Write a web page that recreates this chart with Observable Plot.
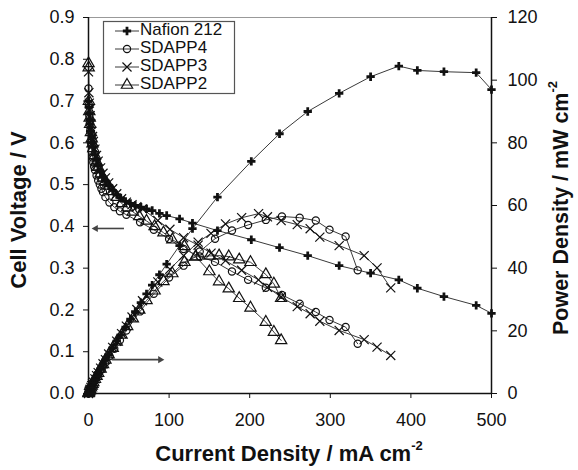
<!DOCTYPE html>
<html><head><meta charset="utf-8">
<script src="https://cdn.jsdelivr.net/npm/d3@7"></script>
<script src="https://cdn.jsdelivr.net/npm/@observablehq/plot@0.6"></script>
<style>
body{margin:0;background:#fff;}
#chart{width:578px;height:470px;}
svg{font-family:"Liberation Sans",Arial,sans-serif;}
</style></head><body><div id="chart"></div>
<script>
// ---- data ----
const seriesNames = ["Nafion 212", "SDAPP4", "SDAPP3", "SDAPP2"];

const nafionI = [0,0.5,1,1.5,2,3,4,5,6,8,10,12,15,18,21,25,30,35,40,46,52,58,65,72,79,88,97,113,129,160,202,237,272,311,350,385,408,441,481,500];
const nafionV = [0.70,0.685,0.67,0.655,0.645,0.628,0.613,0.60,0.59,0.572,0.558,0.545,0.53,0.518,0.508,0.497,0.486,0.476,0.468,0.46,0.455,0.45,0.446,0.442,0.438,0.431,0.426,0.418,0.408,0.39,0.368,0.349,0.33,0.306,0.288,0.272,0.252,0.232,0.211,0.192];
const nafionP = [0,0.34,0.67,0.98,1.29,1.88,2.45,3.0,3.54,4.58,5.58,6.54,7.95,9.3,10.7,12.4,14.6,16.7,18.7,21.2,23.7,26.1,29.0,31.8,34.6,37.9,41.3,47.2,52.6,62.7,74.1,82.9,90.0,95.8,101.1,104.5,103.1,102.7,102.4,97];

const sdapp4I = [0,0.5,1,1.5,2,3,4,5,6,7,8,10,12,14,16,18,21,26,32,39,47,64,81,100,118,138,157,178,198,220,240,262,282,299,319,334];
const sdapp4V = [0.73,0.69,0.665,0.645,0.628,0.60,0.58,0.565,0.553,0.543,0.535,0.522,0.51,0.50,0.49,0.482,0.470,0.457,0.446,0.436,0.428,0.41,0.392,0.370,0.346,0.328,0.315,0.292,0.272,0.253,0.236,0.215,0.195,0.176,0.159,0.119];
const sdapp4P = [0,0.35,0.67,0.97,1.26,1.8,2.32,2.83,3.32,3.8,4.28,5.22,6.12,7.0,7.84,8.68,9.87,11.9,14.3,17.0,20.1,26.2,31.8,37.0,40.8,45.3,49.4,52.0,53.8,55.4,56.5,56.1,55.2,52.3,50.1,39.3];

const sdapp3I = [0,0.5,1,1.5,2,3,4,5,6,8,10,12,15,18,21,25,30,35,41,47,54,60,67,86,101,118,136,152,170,190,211,222,239,259,275,287,311,342,358,375];
const sdapp3V = [0.77,0.72,0.695,0.68,0.665,0.645,0.628,0.615,0.603,0.585,0.57,0.556,0.54,0.527,0.516,0.504,0.49,0.478,0.466,0.458,0.452,0.447,0.442,0.414,0.393,0.373,0.355,0.336,0.318,0.295,0.272,0.254,0.231,0.208,0.191,0.173,0.151,0.129,0.111,0.091];
const sdapp3P = [0,0.36,0.7,1.02,1.33,1.94,2.51,3.08,3.62,4.68,5.7,6.67,8.1,9.49,10.8,12.6,14.7,16.7,19.1,21.5,24.4,26.8,29.6,35.6,39.7,44.0,48.3,51.1,54.1,56.1,57.4,56.4,55.2,53.9,52.6,49.9,47.2,44.0,40.1,33.7];

const sdapp2I = [0,0.2,0.5,1,1.5,2,3,4,5,6,8,10,12,15,18,21,25,30,35,41,48,55,63,72,82,93,104,119,133,150,162,174,187,201,220,230,239];
const sdapp2V = [0.79,0.78,0.70,0.675,0.66,0.645,0.625,0.61,0.598,0.587,0.57,0.555,0.542,0.526,0.516,0.508,0.497,0.484,0.470,0.455,0.445,0.435,0.424,0.413,0.400,0.385,0.368,0.352,0.328,0.292,0.268,0.251,0.228,0.205,0.171,0.147,0.127];
const sdapp2P = [0,0.16,0.35,0.68,0.99,1.29,1.88,2.44,2.99,3.52,4.56,5.55,6.5,7.89,9.29,10.7,12.4,14.5,16.5,18.7,21.4,23.9,26.7,29.7,32.8,35.8,38.3,41.9,43.6,43.9,44.0,43.7,42.7,41.9,38.0,35.0,30.4];

const xTicks = [0,100,200,300,400,500];
const vTicks = [0,0.1,0.2,0.3,0.4,0.5,0.6,0.7,0.8,0.9];
const pTicks = [0,20,40,60,80,100,120];

// annotation arrows: from current, to current, voltage-axis level
const arrowFrom = [44, 29];
const arrowTo = [9, 89];
const arrowLevel = [0.395, 0.081];

// ---- build ----
const K = 0.9 / 120; // power -> voltage-axis units
const cols = [
  [nafionI, nafionV, nafionP],
  [sdapp4I, sdapp4V, sdapp4P],
  [sdapp3I, sdapp3V, sdapp3P],
  [sdapp2I, sdapp2V, sdapp2P]
];
const styles = {
  "Nafion 212": {symbol: "cross", d3sym: d3.symbolCross, fill: "#111", stroke: "none", r: 3.5},
  "SDAPP4": {symbol: "circle", d3sym: d3.symbolCircle, fill: "none", stroke: "#111", r: 3.6},
  "SDAPP3": {symbol: "times", d3sym: d3.symbolTimes, fill: "none", stroke: "#111", r: 4.2},
  "SDAPP2": {symbol: "triangle", d3sym: d3.symbolTriangle, fill: "none", stroke: "#111", r: 4.2}
};
const rows = seriesNames.flatMap((name, s) =>
  cols[s][0].map((I, i) => ({series: name, I, V: cols[s][1][i], P: cols[s][2][i]})));
const arrows = arrowFrom.map((a, i) => ({x1: a, x2: arrowTo[i], y: arrowLevel[i], dir: arrowTo[i] > a ? 90 : -90}));

const lineColor = "#3a3a3a";
const marks = [
  Plot.ruleY([0.9], {stroke: "#999", strokeWidth: 1}),
  Plot.line(rows, {x: "I", y: "V", z: "series", stroke: lineColor, strokeWidth: 1}),
  Plot.line(rows, {x: "I", y: d => d.P * K, z: "series", stroke: lineColor, strokeWidth: 1})
];
for (const name of seriesNames) {
  const st = styles[name];
  const sub = rows.filter(d => d.series === name);
  for (const yAcc of [d => d.V, d => d.P * K]) {
    marks.push(Plot.dot(sub, {x: "I", y: yAcc, symbol: () => st.symbol, r: st.r,
      fill: st.fill, stroke: st.stroke, strokeWidth: 1.2}));
  }
}
marks.push(
  Plot.link(arrows, {x1: "x1", x2: "x2", y1: "y", y2: "y", stroke: "#444", strokeWidth: 1.6}),
  Plot.dot(arrows, {x: "x2", y: "y", symbol: "triangle2", r: 3.4, fill: "#444", rotate: "dir"}),
  Plot.ruleX([0], {stroke: "#111", strokeWidth: 1.5}),
  Plot.ruleX([500], {stroke: "#111", strokeWidth: 1.5}),
  Plot.ruleY([0], {stroke: "#111", strokeWidth: 1.5}),
  Plot.axisX(xTicks, {tickSize: 5, tickPadding: 15, label: null, fontSize: 18}),
  Plot.axisY(vTicks, {anchor: "left", tickSize: 5, tickPadding: 9, tickFormat: d3.format(".1f"), label: null, fontSize: 18}),
  Plot.axisY(pTicks.map(p => p * K), {anchor: "right", tickSize: 5, tickPadding: 11,
    tickFormat: d => String(Math.round(d / K)), label: null, fontSize: 18})
);

const svgNode = Plot.plot({
  width: 578, height: 470,
  marginLeft: 88, marginRight: 87, marginTop: 17, marginBottom: 77,
  x: {domain: [0, 500]},
  y: {domain: [0, 0.9]},
  style: {fontFamily: "Liberation Sans, Arial, sans-serif", fontSize: "18px", color: "#111", background: "#fff"},
  marks
});
document.getElementById("chart").appendChild(svgNode);

// ---- titles and in-plot legend ----
const svg = d3.select(svgNode);
function title(x, y, rot, main, sup, size) {
  const t = svg.append("text")
    .attr("transform", `translate(${x},${y}) rotate(${rot})`)
    .attr("text-anchor", "middle").attr("dominant-baseline", "middle")
    .attr("font-weight", "bold").attr("font-size", size).attr("fill", "#111");
  t.append("tspan").text(main);
  if (sup) t.append("tspan").attr("dy", -8).attr("font-size", 13).text(sup);
}
title(289, 455, 0, "Current Density / mA cm", "-2", 22);
title(20, 210, -90, "Cell Voltage / V", null, 22);
title(562, 208, -90, "Power Density / mW cm", "-2", 21.5);

const lg = svg.append("g");
lg.append("rect").attr("x", 103.5).attr("y", 21.5).attr("width", 131).attr("height", 72)
  .attr("fill", "#fff").attr("stroke", "#555").attr("stroke-width", 1.2);
seriesNames.forEach((name, i) => {
  const st = styles[name];
  const y = 31 + i * 18;
  lg.append("line").attr("x1", 115).attr("x2", 139).attr("y1", y).attr("y2", y)
    .attr("stroke", lineColor).attr("stroke-width", 1);
  lg.append("path").attr("transform", `translate(127,${y})`)
    .attr("d", d3.symbol(st.d3sym, Math.PI * st.r * st.r)())
    .attr("fill", st.fill).attr("stroke", st.stroke).attr("stroke-width", 1.2);
  lg.append("text").attr("x", 140).attr("y", y).attr("dominant-baseline", "middle")
    .attr("text-anchor", "start")
    .attr("font-size", 17).attr("fill", "#111").text(name);
});
</script></body></html>
